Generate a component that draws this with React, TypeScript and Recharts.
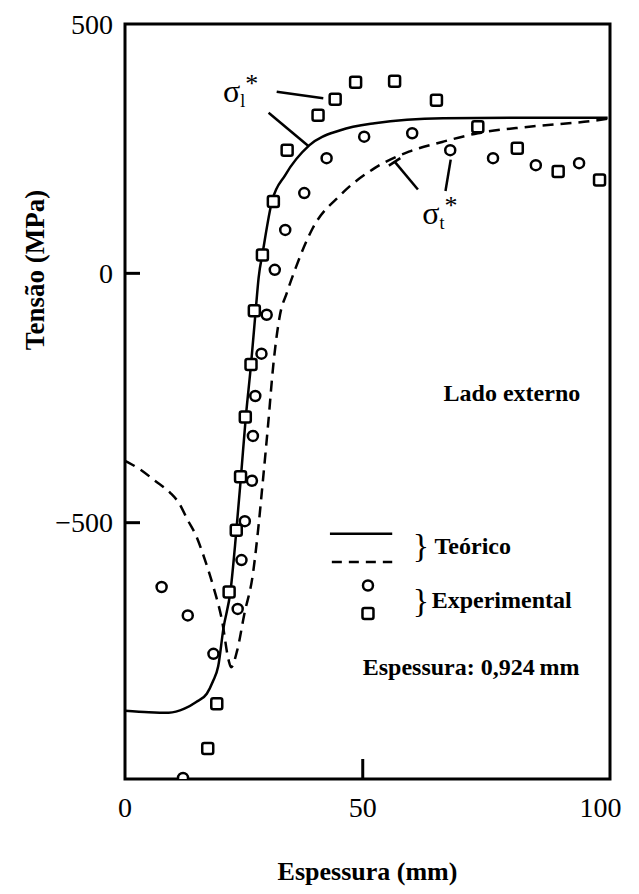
import React from 'react';
import {
  ComposedChart,
  Line,
  Scatter,
  XAxis,
  YAxis,
  ReferenceLine,
  ReferenceArea,
  ReferenceDot,
  Label,
} from 'recharts';

// theoretical curves (x = espessura, y = tensão)
const sigmaLCurve = [
  { x: 0, y: -877 }, { x: 5, y: -880 }, { x: 9.2, y: -881 }, { x: 12.5, y: -873 },
  { x: 14.9, y: -860 }, { x: 17.2, y: -843 }, { x: 18.5, y: -818 }, { x: 19.6, y: -788 },
  { x: 20.7, y: -712 }, { x: 22.2, y: -636 }, { x: 23.3, y: -529 }, { x: 24.4, y: -406 },
  { x: 25.4, y: -289 }, { x: 26.5, y: -183 }, { x: 27.5, y: -73 }, { x: 28.1, y: -9 },
  { x: 29.0, y: 44 }, { x: 30.9, y: 144 }, { x: 33.7, y: 197 }, { x: 38.8, y: 257 },
  { x: 45.3, y: 287 }, { x: 52.5, y: 301 }, { x: 66.9, y: 311 }, { x: 81.3, y: 312 },
  { x: 101.5, y: 312 },
];

const sigmaTCurve = [
  { x: 0, y: -376 }, { x: 3, y: -392 }, { x: 6.3, y: -416 }, { x: 9.5, y: -440 },
  { x: 11.3, y: -460 }, { x: 13.2, y: -495 }, { x: 14.9, y: -525 }, { x: 16.4, y: -563 },
  { x: 18.6, y: -629 }, { x: 20.4, y: -696 }, { x: 21.8, y: -776 }, { x: 22.3, y: -790 },
  { x: 23.6, y: -756 }, { x: 25.1, y: -683 }, { x: 26.9, y: -603 }, { x: 27.9, y: -523 },
  { x: 29.0, y: -416 }, { x: 30.1, y: -303 }, { x: 31.2, y: -183 }, { x: 32.6, y: -83 },
  { x: 34.0, y: -40 }, { x: 35.9, y: 11 }, { x: 39.5, y: 91 }, { x: 45.3, y: 157 },
  { x: 52.5, y: 211 }, { x: 59.7, y: 244 }, { x: 66.9, y: 264 }, { x: 74.2, y: 281 },
  { x: 85, y: 294 }, { x: 99.4, y: 307 }, { x: 101.5, y: 310 },
];

// experimental points
const circlePoints = [
  { x: 50.3, y: 274 }, { x: 60.4, y: 281 }, { x: 68.4, y: 247 }, { x: 42.4, y: 231 },
  { x: 37.7, y: 161 }, { x: 33.7, y: 87 }, { x: 31.5, y: 7 }, { x: 77.4, y: 231 },
  { x: 86.4, y: 217 }, { x: 95.5, y: 221 }, { x: 29.8, y: -83 }, { x: 28.7, y: -161 },
  { x: 27.4, y: -246 }, { x: 26.9, y: -326 }, { x: 26.7, y: -416 }, { x: 25.2, y: -497 },
  { x: 24.5, y: -575 }, { x: 7.7, y: -629 }, { x: 13.2, y: -686 }, { x: 23.7, y: -673 },
  { x: 18.6, y: -763 }, { x: 12.2, y: -1012 },
];

const squarePoints = [
  { x: 40.6, y: 317 }, { x: 44.2, y: 349 }, { x: 48.5, y: 383 }, { x: 56.7, y: 385 },
  { x: 65.5, y: 347 }, { x: 34.1, y: 247 }, { x: 74.2, y: 294 }, { x: 82.5, y: 251 },
  { x: 91.1, y: 204 }, { x: 99.8, y: 187 }, { x: 31.2, y: 144 }, { x: 28.9, y: 37 },
  { x: 27.2, y: -75 }, { x: 26.5, y: -183 }, { x: 25.3, y: -288 }, { x: 24.3, y: -408 },
  { x: 23.4, y: -515 }, { x: 21.9, y: -639 }, { x: 19.3, y: -863 }, { x: 17.4, y: -953 },
];

const xTicks = [0, 50, 100];
const yTicks = [500, 0, -500];

// leader lines for the σ labels
const leaderLines = [
  { x1: 31.9, y1: 364, x2: 41.7, y2: 351 },
  { x1: 30.2, y1: 322, x2: 38.5, y2: 256 },
  { x1: 67.4, y1: 165, x2: 68.5, y2: 228 },
  { x1: 61.6, y1: 168, x2: 56.7, y2: 224 },
  { x1: 55.5, y1: 216, x2: 57.9, y2: 231 },
];

const serif = 'Liberation Serif, Times New Roman, serif';

const CircleMarker = (p: any) => (
  <circle cx={p.cx} cy={p.cy} r={5} fill="#fff" stroke="#000" strokeWidth={2.5} />
);

const SquareMarker = (p: any) => (
  <rect x={p.cx - 5.5} y={p.cy - 5.5} width={11} height={11} rx={2} fill="#fff" stroke="#000" strokeWidth={2.5} />
);

const YTick = ({ x, y, payload }: any) => {
  const v = payload.value;
  const label = v < 0 ? `\u2212${-v}` : `${v}`;
  return (
    <g>
      <text x={x} y={y} textAnchor="end" dominantBaseline="central" fontFamily={serif} fontSize={28} fill="#000">
        {label}
      </text>
      {v !== 500 && <line x1={x + 12} y1={y} x2={x + 27} y2={y} stroke="#000" strokeWidth={3} />}
    </g>
  );
};

const XTick = ({ x, y, payload }: any) => {
  const v = payload.value;
  return (
    <g>
      <text x={x} y={y} textAnchor="middle" dominantBaseline="hanging" fontFamily={serif} fontSize={28} fill="#000">
        {v}
      </text>
      {v === 50 && <line x1={x} y1={y - 18} x2={x} y2={y - 38} stroke="#000" strokeWidth={3} />}
    </g>
  );
};

const TextMark = (text: string, size = 24, weight = 'bold') => (p: any) => (
  <text x={p.cx} y={p.cy} fontFamily={serif} fontSize={size} fontWeight={weight} fill="#000">
    {text}
  </text>
);

const SigmaMark = (sub: string) => (p: any) => (
  <text x={p.cx} y={p.cy} fontFamily={serif} fontSize={32} fill="#000">
    σ
    <tspan fontSize={18} dy={5}>{sub}</tspan>
    <tspan fontSize={26} dy={-15}>*</tspan>
  </text>
);

const BraceMark = (p: any) => (
  <text x={p.cx} y={p.cy} fontFamily={serif} fontSize={34} dominantBaseline="central" fill="#000">
    {'}'}
  </text>
);

export default function App() {
  return (
    <div style={{ position: 'absolute', left: 0, top: 0, width: 639, height: 894, background: '#fff' }}>
      <ComposedChart width={639} height={894} margin={{ top: 24, right: 29, bottom: 0, left: 65 }}>
        <XAxis
          type="number"
          dataKey="x"
          domain={[0, 102]}
          ticks={xTicks}
          axisLine={false}
          tickLine={false}
          tickSize={0}
          tickMargin={18}
          tick={<XTick />}
          height={115}
          allowDataOverflow
        >
          <Label
            value="Espessura (mm)"
            position="insideBottom"
            offset={14}
            style={{ fontFamily: serif, fontSize: 26, fontWeight: 'bold', fill: '#000' }}
          />
        </XAxis>
        <YAxis
          type="number"
          dataKey="y"
          domain={[-1014, 500]}
          ticks={yTicks}
          axisLine={false}
          tickLine={false}
          tickSize={0}
          tickMargin={12}
          tick={<YTick />}
          width={60}
          allowDataOverflow
          label={{
            content: ({ viewBox }: any) => (
              <text
                x={viewBox.x - 30}
                y={viewBox.y + 246}
                transform={`rotate(-90, ${viewBox.x - 30}, ${viewBox.y + 246})`}
                textAnchor="middle"
                dominantBaseline="central"
                fontFamily={serif}
                fontSize={27}
                fontWeight="bold"
                fill="#000"
              >
                Tensão (MPa)
              </text>
            ),
          }}
        />
        <ReferenceArea x1={0} x2={102} y1={-1014} y2={500} fill="none" stroke="#000" strokeWidth={3} ifOverflow="visible" />

        <Line data={sigmaLCurve} dataKey="y" type="monotone" stroke="#000" strokeWidth={2.5} dot={false} activeDot={false} isAnimationActive={false} />
        <Line data={sigmaTCurve} dataKey="y" type="monotone" stroke="#000" strokeWidth={2.5} strokeDasharray="11 7" dot={false} activeDot={false} isAnimationActive={false} />
        <Scatter data={circlePoints} shape={CircleMarker} isAnimationActive={false} />
        <Scatter data={squarePoints} shape={SquareMarker} isAnimationActive={false} />

        {leaderLines.map((l, i) => (
          <ReferenceLine key={i} segment={[{ x: l.x1, y: l.y1 }, { x: l.x2, y: l.y2 }]} stroke="#000" strokeWidth={2.5} ifOverflow="visible" />
        ))}
        <ReferenceDot x={20.6} y={344} r={0} shape={SigmaMark('l')} ifOverflow="visible" />
        <ReferenceDot x={62.5} y={98} r={0} shape={SigmaMark('t')} ifOverflow="visible" />

        <ReferenceDot x={67} y={-256} r={0} shape={TextMark('Lado externo')} ifOverflow="visible" />

        {/* legenda */}
        <ReferenceLine segment={[{ x: 43.1, y: -522 }, { x: 56.2, y: -522 }]} stroke="#000" strokeWidth={2.5} ifOverflow="visible" />
        <ReferenceLine segment={[{ x: 43.5, y: -579 }, { x: 56.2, y: -579 }]} stroke="#000" strokeWidth={2.5} strokeDasharray="10 7" ifOverflow="visible" />
        <ReferenceDot x={60.5} y={-546} r={0} shape={BraceMark} ifOverflow="visible" />
        <ReferenceDot x={65.1} y={-562} r={0} shape={TextMark('Teórico')} ifOverflow="visible" />
        <ReferenceDot x={51.1} y={-626} r={0} shape={CircleMarker} ifOverflow="visible" />
        <ReferenceDot x={51.1} y={-682} r={0} shape={SquareMarker} ifOverflow="visible" />
        <ReferenceDot x={60.5} y={-656} r={0} shape={BraceMark} ifOverflow="visible" />
        <ReferenceDot x={64.5} y={-672} r={0} shape={TextMark('Experimental')} ifOverflow="visible" />
        <ReferenceDot x={50} y={-806} r={0} shape={TextMark('Espessura: 0,924\u2009mm')} ifOverflow="visible" />
      </ComposedChart>
    </div>
  );
}
